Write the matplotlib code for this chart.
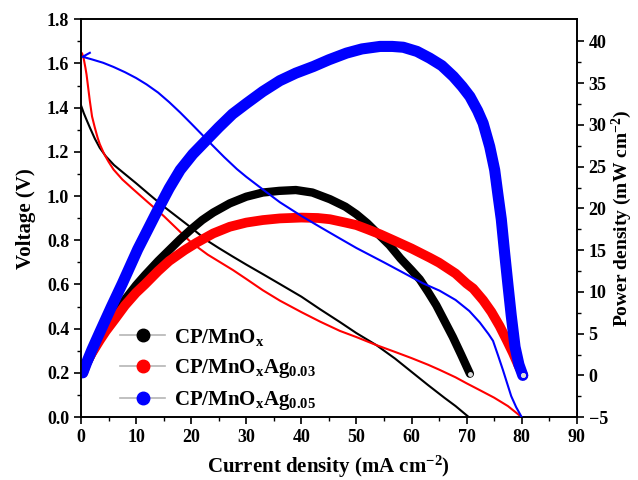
import numpy as np
import matplotlib.pyplot as plt

plt.rcParams['font.family'] = 'Liberation Serif'
plt.rcParams['font.weight'] = 'bold'
plt.rcParams['mathtext.default'] = 'regular'

# polarization curves (voltage vs current density)
i_mno = [0, 0.5, 1, 1.6, 2.5, 3.4, 4.5, 6, 7.7, 10, 12.5, 15, 17.5, 20, 22.8, 25, 27.5, 30, 33,
         36.1, 40, 43.4, 47, 50, 53.6, 57, 60, 63, 66, 68, 70.4]
v_mno = [1.41, 1.375, 1.345, 1.31, 1.26, 1.218, 1.18, 1.14, 1.105, 1.058, 1.005, 0.953, 0.905, 0.857,
         0.80, 0.765, 0.727, 0.69, 0.647, 0.602, 0.545, 0.488, 0.43, 0.38, 0.326, 0.265, 0.205,
         0.145, 0.087, 0.05, 0.0]

i_ag3 = [0, 0.2, 0.5, 0.8, 1.0, 1.3, 1.6, 2.0, 2.5, 3.0, 3.4, 4.2, 5, 5.9, 7.5, 9.5, 12, 15, 17.5,
         20, 23, 27.6, 30, 33, 36.1, 40, 43.4, 47, 50, 53.6, 57, 60, 63, 65, 68, 70, 72.4, 75, 77.5, 80]
v_ag3 = [1.65, 1.645, 1.62, 1.58, 1.55, 1.49, 1.43, 1.36, 1.31, 1.265, 1.235, 1.19, 1.155, 1.12,
         1.075, 1.03, 0.975, 0.91, 0.85, 0.79, 0.735, 0.665, 0.625, 0.574, 0.527, 0.475, 0.432, 0.39,
         0.362, 0.326, 0.295, 0.267, 0.237, 0.215, 0.18, 0.153, 0.122, 0.088, 0.05, 0.0]

i_ag5 = [1.6, 0.3, 2, 4, 5.9, 8, 10, 11.9, 14, 16, 18, 20, 22, 24, 26, 28.3, 30, 33, 36.1, 40, 43.4,
         47, 50, 55, 58, 62.1, 65.1, 68, 70.5, 72.4, 74, 74.8, 75.7, 76.6, 77.4, 78.1, 79, 80]
v_ag5 = [1.648, 1.63, 1.618, 1.603, 1.584, 1.56, 1.534, 1.505, 1.468, 1.425, 1.378, 1.328, 1.277,
         1.226, 1.176, 1.122, 1.087, 1.03, 0.972, 0.91, 0.86, 0.808, 0.765, 0.70, 0.66, 0.605, 0.572,
         0.53, 0.48, 0.428, 0.375, 0.345, 0.28, 0.213, 0.15, 0.095, 0.045, 0.0]

# power density curves
pi_mno = [0.4, 1, 2, 3.4, 4.5, 6.1, 8, 10, 11.6, 14, 16, 18, 20, 22, 24, 27, 30, 33, 36, 39, 42,
          45.2, 48, 50, 52, 54.3, 56, 58, 60, 61.5, 63, 64.5, 66, 67.5, 69, 70.6]
p_mno = [0.3, 1.3, 2.6, 4.3, 5.7, 7.3, 9.1, 10.8, 12.0, 13.7, 15.0, 16.3, 17.5, 18.6, 19.5, 20.6,
         21.4, 21.9, 22.1, 22.2, 21.9, 21.1, 20.2, 19.3, 18.2, 16.7, 15.6, 14.0, 12.6, 11.5, 10.0,
         8.4, 6.5, 4.6, 2.5, 0.2]

pi_ag3 = [0.4, 1, 2, 3.4, 4.5, 6.1, 8, 10, 11.6, 14, 16, 18.8, 21, 24, 27, 30, 33, 36.1, 40, 43,
          45.2, 48, 50, 52, 54.3, 57, 60, 63.3, 65, 68, 70, 71.2, 73, 74.5, 76, 77.3, 78.4, 79.4, 80.3]
p_ag3 = [0.3, 1.5, 2.7, 4.2, 5.3, 6.7, 8.4, 9.9, 10.9, 12.5, 13.7, 15.0, 15.9, 17.0, 17.8, 18.3,
         18.6, 18.8, 18.9, 18.85, 18.7, 18.3, 18.0, 17.5, 16.9, 16.1, 15.2, 14.1, 13.5, 12.2, 11.0,
         10.4, 9.0, 7.6, 5.9, 4.2, 2.7, 1.2, 0]

pi_ag5 = [0.3, 1, 2, 3.5, 5.5, 7.5, 10.3, 12, 14, 16, 18, 20.3, 22.8, 25, 27.5, 30.1, 33, 36.1, 39,
          42.2, 45, 48.2, 51, 54.3, 56.5, 58.5, 61, 63.3, 65.5, 67.6, 69.2, 70.6, 72, 73, 74.2, 75.1,
          75.7, 76.3, 76.9, 77.5, 78.1, 78.8, 79.5, 80.2]
p_ag5 = [0.3, 1.5, 3.1, 5.3, 8.2, 11.0, 15.1, 17.3, 19.9, 22.4, 24.6, 26.5, 28.2, 29.7, 31.3, 32.6,
         34.0, 35.3, 36.2, 37.0, 37.8, 38.6, 39.1, 39.4, 39.4, 39.3, 38.8, 38.0, 37.1, 35.8, 34.6,
         33.4, 31.7, 30.2, 27.4, 24.6, 21.6, 18.7, 14.7, 10.9, 7.2, 3.4, 1.3, 0.0]

labels = ['CP/MnO$_x$', 'CP/MnO$_x$Ag$_{0.03}$', 'CP/MnO$_x$Ag$_{0.05}$']
colors = ['black', '#ff0000', '#0000ff']

fig = plt.figure(figsize=(6.38, 4.8), dpi=100)
fig.subplots_adjust(left=0.127, right=0.904, bottom=0.131, top=0.960)
ax = fig.add_subplot(111)
ax2 = ax.twinx()

ax.plot(i_mno, v_mno, color=colors[0], lw=1.5)
ax.plot(i_ag3, v_ag3, color=colors[1], lw=1.5)

widths = [6, 7, 8]
for x, y, c, w in zip([pi_mno, pi_ag3, pi_ag5], [p_mno, p_ag3, p_ag5], colors, widths):
    ax2.plot(x, y, color=c, lw=w, solid_capstyle='round', solid_joinstyle='round')
    ax2.plot(x[-1], y[-1], 'o', color='#dddddd', ms=2.5, zorder=5)

# blue polarization line sits above the power bands in the original
ax2.plot(i_ag5, v_ag5, color=colors[2], lw=1.5, transform=ax.transData, zorder=4)

ax.set_xlim(0, 90)
ax.set_ylim(0, 1.8)
ax2.set_ylim(-5, 42.66)
ax.set_xticks(np.arange(0, 91, 10))
ax.set_xticks(np.arange(5, 90, 10), minor=True)
ax.set_yticks(np.arange(0, 1.81, 0.2))
ax.set_yticks(np.arange(0.1, 1.8, 0.2), minor=True)
ax2.set_yticks(np.arange(-5, 41, 5))
ax2.set_yticks(np.arange(-2.5, 42, 5), minor=True)
ax2.set_yticklabels(['\u22125'] + [str(v) for v in range(0, 41, 5)])

for a in (ax, ax2):
    a.tick_params(which='major', direction='out', length=5, width=1.2, labelsize=13)
    a.tick_params(which='minor', direction='out', length=3, width=1.0)
    for s in a.spines.values():
        s.set_linewidth(1.2)

ax.set_xlabel('Current density (mA cm$^{-2}$)', fontsize=15, fontweight='bold', labelpad=6)
ax.set_ylabel('Voltage (V)', fontsize=15, fontweight='bold', labelpad=8)
ax2.set_ylabel('Power density (mW cm$^{-2}$)', fontsize=14, fontweight='bold', labelpad=1)

handles = [plt.Line2D([], [], color='#b5b5b5', lw=1.2, marker='o', ms=9,
                      markerfacecolor=c, markeredgecolor=c) for c in colors]
ax.legend(handles, labels, loc='lower left', bbox_to_anchor=(0.04, -0.035), frameon=False,
          prop={'family': 'Liberation Serif', 'weight': 'bold', 'size': 15},
          handlelength=2.2, labelspacing=0.45, handletextpad=0.4)

fig.savefig('out.png', dpi=100)
